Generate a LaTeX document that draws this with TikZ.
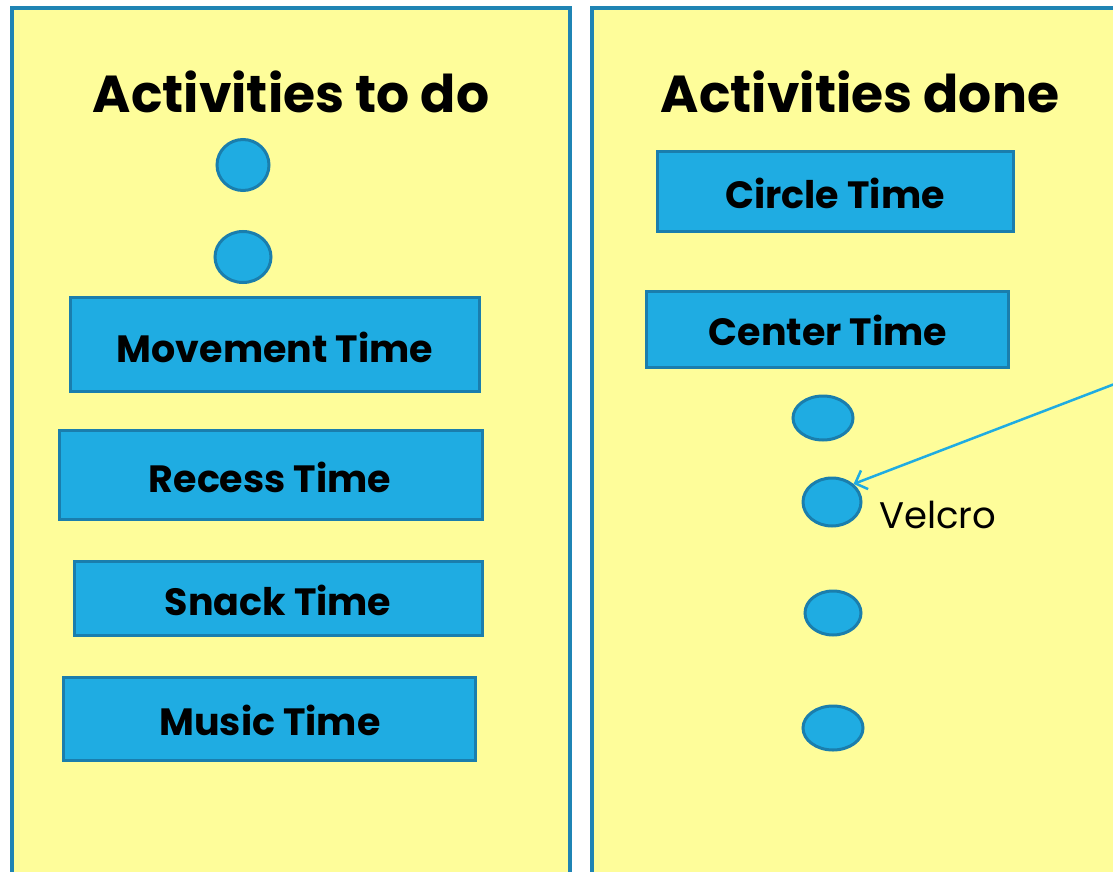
\documentclass[tikz,border=0pt]{standalone}
\usepackage{fontspec}
\setmainfont{Poppins}
\usetikzlibrary{arrows.meta,shapes.geometric}
\definecolor{panelfill}{HTML}{FEFD9A}
\definecolor{panelline}{HTML}{1F84B4}
\definecolor{boxfill}{HTML}{1FACE2}
\definecolor{boxline}{HTML}{1A7EAD}
\tikzset{
  panel/.style={draw=panelline, line width=3.5pt, fill=panelfill},
  actbox/.style={draw=boxline, line width=3pt, fill=boxfill, inner sep=0pt},
  boxtext/.style={font=\fontsize{38}{44}\selectfont\bfseries, inner sep=0pt},
  dot/.style={ellipse, draw=boxline, line width=3pt, fill=boxfill, inner sep=0pt},
  title/.style={font=\fontsize{52}{60}\selectfont\bfseries, inner sep=0pt},
}
\begin{document}
\begin{tikzpicture}[x=1pt,y=-1pt]
\useasboundingbox (0,0) rectangle (1113,872);
\begin{scope}
\clip (0,0) rectangle (1113,872);
\draw[panel] (12,8) rectangle (570,890);
\draw[panel] (592,8) rectangle (1130,890);
\node[title] (t1) at (291,92) {Activities to do};
\node[title] (t2) at (860,92) {Activities done};
% left column
\node[dot, minimum width=52pt, minimum height=51pt] (l1) at (243,165) {};
\node[dot, minimum width=56pt, minimum height=51pt] (l2) at (243,257) {};
\node[actbox, minimum width=409pt, minimum height=94pt] (b1) at (274.5,344) {};
\node[boxtext] (b1t) at (275,347) {Movement Time};
\node[actbox, minimum width=423pt, minimum height=89pt] (b2) at (270.5,474.5) {};
\node[boxtext] (b2t) at (270,477) {Recess Time};
\node[actbox, minimum width=408pt, minimum height=74pt] (b3) at (278,598) {};
\node[boxtext] (b3t) at (278,600) {Snack Time};
\node[actbox, minimum width=412pt, minimum height=83pt] (b4) at (269,718.5) {};
\node[boxtext] (b4t) at (270,720) {Music Time};
% right column
\node[actbox, minimum width=356pt, minimum height=80pt] (c1) at (835,191) {};
\node[boxtext] (c1t) at (835,193) {Circle Time};
\node[actbox, minimum width=362pt, minimum height=76pt] (c2) at (827,329) {};
\node[boxtext] (c2t) at (828,330) {Center Time};
\node[dot, minimum width=60pt, minimum height=44pt] (r1) at (823,418) {};
\node[dot, minimum width=58pt, minimum height=48pt] (r2) at (832,502) {};
\node[dot, minimum width=56pt, minimum height=44pt] (r3) at (833,613) {};
\node[dot, minimum width=60pt, minimum height=44pt] (r4) at (833,728) {};
\node[anchor=west, font=\fontsize{37}{42}\selectfont, inner sep=0pt] (velcro) at (879,515) {Velcro};
\coordinate (src) at (1125,380);
\draw[boxfill, line width=2.5pt, -{Straight Barb[length=10pt,width=20pt]}] (src) -- (r2.north east);
\end{scope}
\end{tikzpicture}
\end{document}
